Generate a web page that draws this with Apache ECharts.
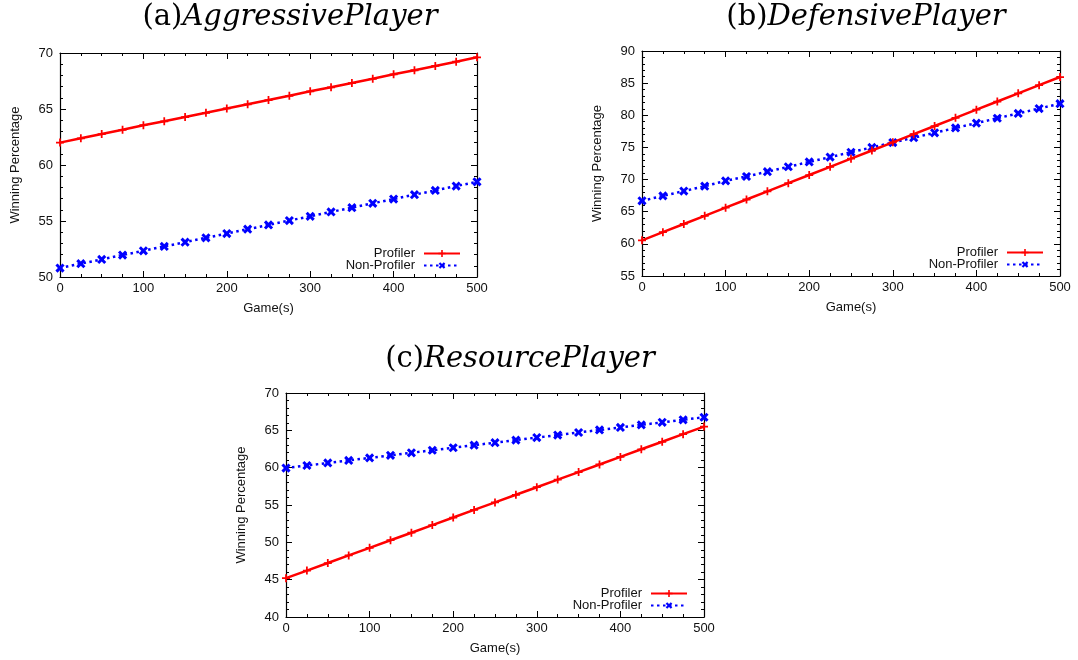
<!DOCTYPE html>
<html>
<head>
<meta charset="utf-8">
<script src="https://cdn.jsdelivr.net/npm/echarts@6/dist/echarts.min.js"></script>
<style>
html,body{margin:0;padding:0;background:#fff;}
#chart{width:1078px;height:660px;}
</style>
</head>
<body>
<div id="chart"></div>
<script>
const games = [0,25,50,75,100,125,150,175,200,225,250,275,300,325,350,375,400,425,450,475,500];
const xTicks = [0,100,200,300,400,500];

const titles = ['(a)', '(b)', '(c)'];
const titleNames = ['AggressivePlayer', 'DefensivePlayer', 'ResourcePlayer'];
const seriesNames = ['Profiler', 'Non-Profiler'];
const yAxisName = 'Winning Percentage';
const xAxisName = 'Game(s)';

const aggProfiler = [62.0,62.38,62.76,63.14,63.55,63.9,64.28,64.66,65.05,65.42,65.8,66.18,66.58,66.94,67.32,67.7,68.1,68.46,68.84,69.22,69.62];
const aggNon = [50.8,51.19,51.57,51.96,52.34,52.73,53.11,53.5,53.88,54.27,54.65,55.04,55.42,55.81,56.19,56.58,56.96,57.35,57.73,58.12,58.5];

const defProfiler = [60.55,61.82,63.09,64.36,65.63,66.9,68.17,69.44,70.71,71.98,73.25,74.52,75.79,77.06,78.33,79.6,80.87,82.14,83.41,84.68,85.95];
const defNon = [66.7,67.46,68.21,68.97,69.8,70.48,71.23,71.99,72.74,73.5,74.25,75.01,75.76,76.52,77.27,78.03,78.78,79.54,80.29,81.05,81.8];

const resProfiler = [45.2,46.22,47.23,48.25,49.26,50.28,51.29,52.31,53.32,54.34,55.35,56.37,57.38,58.4,59.41,60.43,61.44,62.46,63.47,64.49,65.5];
const resNon = [59.95,60.29,60.63,60.97,61.31,61.65,61.99,62.33,62.67,63.01,63.35,63.69,64.03,64.37,64.71,65.05,65.39,65.73,66.07,66.41,66.75];

const yRanges = [[50,70],[55,90],[40,70]];
const panelData = [[aggProfiler, aggNon],[defProfiler, defNon],[resProfiler, resNon]];

// layout (pixels)
const grids = [
  {left:60, top:53, width:417, height:224},
  {left:642, top:51, width:418, height:225},
  {left:286, top:393, width:418, height:224}
];
const titlePos = [{x:290, y:3},{x:866, y:3},{x:520, y:345}];
const legendPos = [{right:617, top:247},{right:34, top:246},{right:390, top:587}];

const FONT = '"Liberation Sans", Arial, sans-serif';
const SERIF = '"DejaVu Serif", "Liberation Serif", serif';
const PLUS = 'path://M0,3.9H3.9V0H6.1V3.9H10V6.1H6.1V10H3.9V6.1H0Z';
const CROSS = 'path://M0,3.5H3.5V0H6.5V3.5H10V6.5H6.5V10H3.5V6.5H0Z';

const option = {
  backgroundColor:'#fff',
  animation:false,
  title:[], grid:[], xAxis:[], yAxis:[], legend:[], series:[]
};

const lineC = '#000';
for (let i=0;i<3;i++){
  option.title.push({
    text:'{u|' + titles[i] + '}{i|' + titleNames[i] + '}',
    left: titlePos[i].x, top: titlePos[i].y, textAlign:'center',
    padding:0,
    textStyle:{
      fontWeight:'normal',
      rich:{
        u:{fontFamily:SERIF, fontSize:29, fontWeight:'normal', color:'#000'},
        i:{fontFamily:SERIF, fontStyle:'italic', fontWeight:'normal', fontSize:29, color:'#000'}
      }
    }
  });
  option.grid.push(Object.assign({containLabel:false}, grids[i]));
  const [ymin,ymax] = yRanges[i];
  const baseTick = {show:true, inside:true, length:6, lineStyle:{color:lineC, width:1}};
  const minorTick = {show:true, length:3, lineStyle:{color:lineC, width:1}};
  // bottom x
  option.xAxis.push({
    type:'value', gridIndex:i, position:'bottom', min:0, max:500, interval:100,
    axisLine:{show:true, onZero:false, lineStyle:{color:lineC, width:1.2}},
    axisTick:baseTick, minorTick:Object.assign({splitNumber:4}, minorTick),
    splitLine:{show:false},
    axisLabel:{show:true, margin:5, color:'#111', fontSize:13, fontFamily:FONT},
    name:xAxisName, nameLocation:'middle', nameGap:25,
    nameTextStyle:{color:'#111', fontSize:13, fontFamily:FONT}
  });
  // top x (mirror)
  option.xAxis.push({
    type:'value', gridIndex:i, position:'top', min:0, max:500, interval:100,
    axisLine:{show:true, onZero:false, lineStyle:{color:lineC, width:1.2}},
    axisTick:baseTick, minorTick:Object.assign({splitNumber:4}, minorTick),
    splitLine:{show:false}, axisLabel:{show:false}
  });
  // left y
  option.yAxis.push({
    type:'value', gridIndex:i, position:'left', min:ymin, max:ymax, interval:5,
    axisLine:{show:true, onZero:false, lineStyle:{color:lineC, width:1.2}},
    axisTick:baseTick, minorTick:Object.assign({splitNumber:5}, minorTick),
    splitLine:{show:false},
    axisLabel:{show:true, margin:7, color:'#111', fontSize:13, fontFamily:FONT},
    name:yAxisName, nameLocation:'middle', nameGap:38,
    nameTextStyle:{color:'#111', fontSize:13, fontFamily:FONT}
  });
  // right y (mirror)
  option.yAxis.push({
    type:'value', gridIndex:i, position:'right', min:ymin, max:ymax, interval:5,
    axisLine:{show:true, onZero:false, lineStyle:{color:lineC, width:1.2}},
    axisTick:baseTick, minorTick:Object.assign({splitNumber:5}, minorTick),
    splitLine:{show:false}, axisLabel:{show:false}
  });

  const [prof, non] = panelData[i];
  option.series.push({
    name:seriesNames[0], type:'line', xAxisIndex:i*2, yAxisIndex:i*2,
    data: games.map((g,k)=>[g, prof[k]]),
    symbol:PLUS, symbolSize:8, showSymbol:true,
    itemStyle:{color:'#ff0000'},
    lineStyle:{color:'#ff0000', width:2.5, type:'solid'},
    z:3
  });
  option.series.push({
    name:seriesNames[1], type:'line', xAxisIndex:i*2, yAxisIndex:i*2,
    data: games.map((g,k)=>[g, non[k]]),
    symbol:CROSS, symbolSize:10, symbolRotate:45, showSymbol:true,
    itemStyle:{color:'#0000ff'},
    lineStyle:{color:'#0000ff', width:2.5, type:[2.5,3.5]},
    z:2
  });
  for (let s=0;s<2;s++){
    option.legend.push({
      data:[seriesNames[s]], orient:'vertical', align:'right',
      right:legendPos[i].right, top:legendPos[i].top + s*12,
      padding:0, itemWidth:36, itemHeight:9, selectedMode:false,
      textStyle:{color:'#111', fontSize:13, fontFamily:FONT, padding:[0,4,0,0]}
    });
  }
}

const chart = echarts.init(document.getElementById('chart'), null, {renderer:'canvas'});
chart.setOption(option);
</script>
</body>
</html>
